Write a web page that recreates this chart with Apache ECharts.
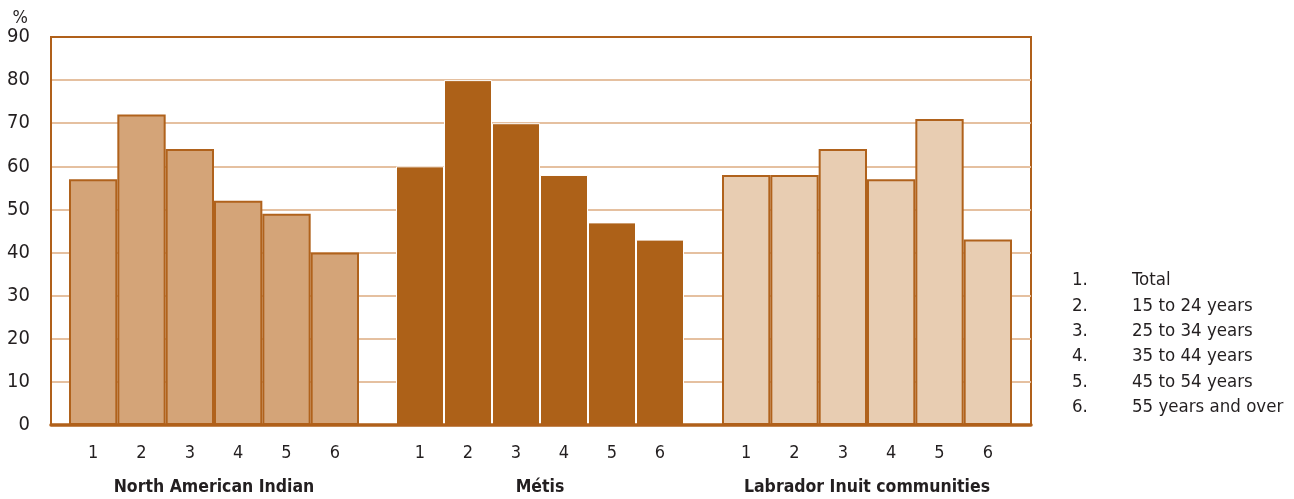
<!DOCTYPE html>
<html>
<head>
<meta charset="utf-8">
<script src="https://cdn.jsdelivr.net/npm/echarts@6/dist/echarts.min.js"></script>
<style>
html,body{margin:0;padding:0;background:#fff;}
#c{width:1294px;height:499px;}
</style>
</head>
<body>
<div id="c"></div>
<script>
// ---- data ----
var ageCategories = ['1', '2', '3', '4', '5', '6'];
var groupNames = ['North American Indian', 'Métis', 'Labrador Inuit communities'];
var northAmericanIndian = [57, 72, 64, 52, 49, 40];
var metis = [60, 80, 70, 58, 47, 43];
var labradorInuit = [58, 58, 64, 57, 71, 43];
var yTicks = { min: 0, max: 90, interval: 10 };
var legendNumbers = ['1.', '2.', '3.', '4.', '5.', '6.'];
var legendLabels = ['Total', '15 to 24 years', '25 to 34 years', '35 to 44 years', '45 to 54 years', '55 years and over'];

// ---- styling ----
var FONT = "'Liberation Sans Narrow', 'DejaVu Sans Condensed', 'Liberation Sans', sans-serif";
var TEXT = '#231f20';
var FRAME = '#b0601a';
var GRIDLINE = '#e5c0a0';
var fills = ['#d4a478', '#ad6118', '#e8cdb2'];
var borders = ['#b0621c', '#ffffff', '#b0621c'];
var borderWidths = [2, 1, 2];
var seriesData = [northAmericanIndian, metis, labradorInuit];
var groupGrids = [
  { left: 69, width: 290 },
  { left: 396, width: 288 },
  { left: 722, width: 290 }
];

var grids = [{ left: 51, right: 263, top: 37, bottom: 74, show: true, borderColor: FRAME, borderWidth: 2,
  backgroundColor: 'transparent', containLabel: false, outerBoundsMode: 'none' }];
var xAxes = [{
  gridIndex: 0, type: 'category', data: [''], z: 10,
  axisLine: { show: true, lineStyle: { color: FRAME, width: 3.5 } },
  axisTick: { show: false }, axisLabel: { show: false }, splitLine: { show: false }
}];
var yAxes = [{
  gridIndex: 0, type: 'value', min: yTicks.min, max: yTicks.max, interval: yTicks.interval,
  name: '%', nameLocation: 'end', nameGap: 6,
  nameTextStyle: { fontFamily: FONT, fontSize: 18, color: TEXT, align: 'right', padding: [0, 23, 0, 0] },
  axisLine: { show: true, lineStyle: { color: FRAME, width: 2 } },
  axisTick: { show: false },
  axisLabel: { fontFamily: FONT, fontSize: 20, color: TEXT, margin: 21 },
  splitLine: { show: true, showMinLine: false, showMaxLine: false, lineStyle: { color: GRIDLINE, width: 2 } }
}];
var series = [];

groupGrids.forEach(function (g, i) {
  grids.push({ left: g.left, width: g.width, top: 37, bottom: 74, containLabel: false, outerBoundsMode: 'none' });
  xAxes.push({
    gridIndex: i + 1, type: 'category', data: ageCategories,
    axisLine: { show: false }, axisTick: { show: false },
    axisLabel: { fontFamily: FONT, fontSize: 18, color: TEXT, margin: 19 },
    name: groupNames[i], nameLocation: 'middle', nameGap: 53,
    nameTextStyle: { fontFamily: FONT, fontSize: 17.5, fontWeight: 'bold', color: TEXT }
  });
  yAxes.push({
    gridIndex: i + 1, type: 'value', min: yTicks.min, max: yTicks.max, interval: yTicks.interval, show: false
  });
  series.push({
    type: 'bar', xAxisIndex: i + 1, yAxisIndex: i + 1, data: seriesData[i],
    barWidth: '100%', barCategoryGap: '0%',
    itemStyle: { color: fills[i], borderColor: borders[i], borderWidth: borderWidths[i] },
    silent: true
  });
});

var graphics = [];
legendNumbers.forEach(function (n, i) {
  graphics.push({ type: 'text', left: 1072, top: 271 + i * 25.3,
    style: { text: n, font: '18.5px ' + FONT, fill: TEXT } });
  graphics.push({ type: 'text', left: 1132, top: 271 + i * 25.3,
    style: { text: legendLabels[i], font: '18.5px ' + FONT, fill: TEXT } });
});

var chart = echarts.init(document.getElementById('c'), null, { renderer: 'canvas' });
chart.setOption({
  animation: false,
  backgroundColor: '#ffffff',
  grid: grids,
  xAxis: xAxes,
  yAxis: yAxes,
  series: series,
  graphic: graphics
});
</script>
</body>
</html>
